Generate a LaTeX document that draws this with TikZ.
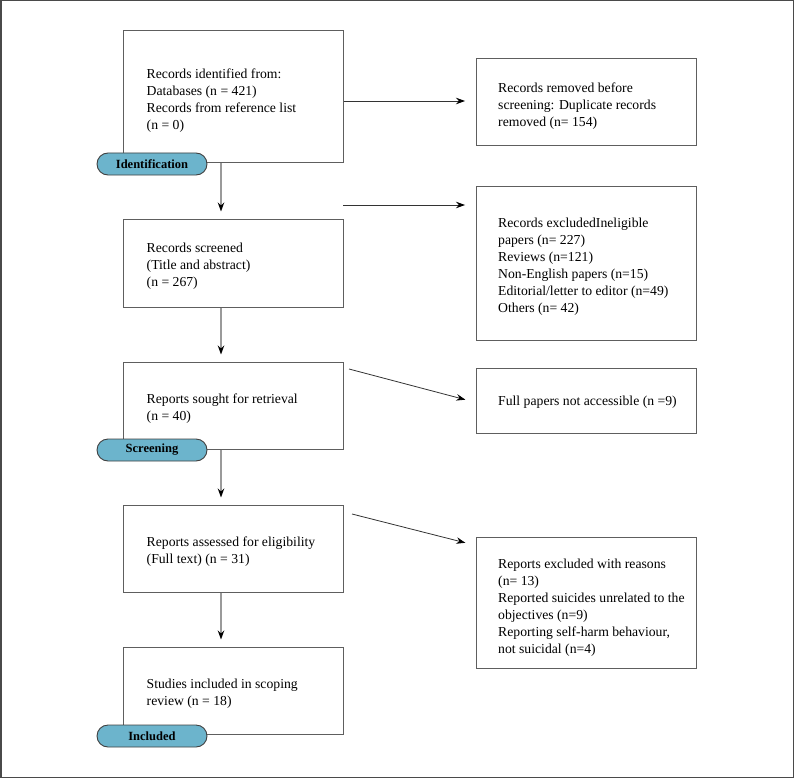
\documentclass[tikz,border=0pt]{standalone}
\usepackage{fontspec}
\setmainfont{Liberation Serif}
\usetikzlibrary{arrows.meta,calc}
\definecolor{boxline}{HTML}{5E5E5E}
\definecolor{pillfill}{HTML}{6CB4CC}
\definecolor{pillline}{HTML}{404040}
\definecolor{shaft}{HTML}{9A9A9A}
\definecolor{framegray}{HTML}{4A4A4A}
\tikzset{
  flowbox/.style={draw=boxline, line width=1pt, rectangle, minimum width=220pt, inner sep=0pt},
  boxtext/.style={anchor=west, align=left, inner sep=0pt, font=\fontsize{13.7}{17}\selectfont},
  pill/.style={draw=pillline, fill=pillfill, line width=0.9pt, rounded corners=11pt, minimum width=110pt, minimum height=22pt, inner sep=0pt, font=\fontsize{12.5}{14}\selectfont\bfseries},
  varrow/.style={draw=shaft, line width=1.2pt, -{Stealth[black, length=9pt, width=6.5pt]}, shorten >=7pt},
  harrow/.style={draw=black!80, line width=0.8pt, -{Stealth[black, length=9pt, width=6.5pt]}, shorten >=11pt},
}
\begin{document}
\begin{tikzpicture}[x=1pt,y=-1pt]
\useasboundingbox (0,0) rectangle (794,778);
\draw[framegray, line width=1.5pt] (0.75,0.75) rectangle (793.25,777.25);

% left column boxes
\node[flowbox, minimum height=132pt] (b1) at (233,97) {};
\node[flowbox, minimum height=88pt] (b2) at (233,263) {};
\node[flowbox, minimum height=87pt] (b3) at (233,405.5) {};
\node[flowbox, minimum height=87pt] (b4) at (233,548.5) {};
\node[flowbox, minimum height=87pt] (b5) at (233,690.5) {};
% right column boxes
\node[flowbox, minimum height=87pt] (r1) at (586.5,102.5) {};
\node[flowbox, minimum height=154pt] (r2) at (586.5,263) {};
\node[flowbox, minimum height=65pt] (r3) at (586.5,400.5) {};
\node[flowbox, minimum height=131pt] (r4) at (586.5,602.5) {};

% texts
\node[boxtext] (t1) at ($(b1.west)+(24,3.5)$) {Records identified from:\\Databases (n = 421)\\Records from reference list\\(n = 0)};
\node[boxtext] (t2) at ($(b2.west)+(24,3)$) {Records screened\\(Title and abstract)\\(n = 267)};
\node[boxtext] (t3) at ($(b3.west)+(24,3.5)$) {Reports sought for retrieval\\(n = 40)};
\node[boxtext] (t4) at ($(b4.west)+(24,3)$) {Reports assessed for eligibility\\(Full text) (n = 31)};
\node[boxtext] (t5) at ($(b5.west)+(24,3)$) {Studies included in scoping\\review (n = 18)};
\node[boxtext] (s1) at ($(r1.west)+(22,3.5)$) {Records removed before\\screening: Duplicate records\\removed (n= 154)};
\node[boxtext] (s2) at ($(r2.west)+(22,4)$) {Records excludedIneligible\\papers (n= 227)\\Reviews (n=121)\\Non-English papers (n=15)\\Editorial/letter to editor (n=49)\\Others (n= 42)};
\node[boxtext] (s3) at ($(r3.west)+(22,2)$) {Full papers not accessible (n =9)};
\node[boxtext] (s4) at ($(r4.west)+(22,5)$) {Reports excluded with reasons\\(n= 13)\\Reported suicides unrelated to the\\objectives (n=9)\\Reporting self-harm behaviour,\\not suicidal (n=4)};

% vertical arrows
\coordinate (vx) at (221,0);
\draw[varrow] (b1.south -| vx) -- (b2.north -| vx);
\draw[varrow] (b2.south -| vx) -- (b3.north -| vx);
\draw[varrow] (b3.south -| vx) -- (b4.north -| vx);
\draw[varrow] (b4.south -| vx) -- (b5.north -| vx);

% side arrows
\coordinate (a1s) at ($(b1.east)+(0,4)$);
\draw[harrow] (a1s) -- (a1s -| r1.west);
\coordinate (a2s) at (343,205);
\draw[harrow] (a2s) -- (a2s -| r2.west);
\coordinate (a3s) at (349,369);
\coordinate (a3e) at ($(r3.west)+(0,2)$);
\draw[harrow] (a3s) -- (a3e);
\coordinate (a4s) at (352,514);
\coordinate (a4e) at ($(r4.west)+(0,-57)$);
\draw[harrow] (a4s) -- (a4e);

% phase pills
\node[pill] (p1) at (152,164) {Identification};
\node[pill] (p2) at (152,450) {Screening};
\node[pill] (p3) at (152,736) {Included};
\end{tikzpicture}
\end{document}
